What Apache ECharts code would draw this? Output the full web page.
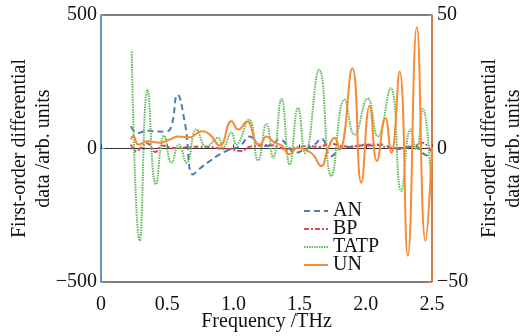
<!DOCTYPE html>
<html>
<head>
<meta charset="utf-8">
<script src="https://cdn.jsdelivr.net/npm/echarts@6/dist/echarts.min.js"></script>
<style>
  html, body { margin: 0; padding: 0; background: #fff; }
  #chart { width: 526px; height: 336px; }
</style>
</head>
<body>
<div id="chart"></div>
<script>
// [frequency THz, value]
const anData = [
  [0.226, 83], [0.281, 58], [0.345, 67], [0.407, 64], [0.483, 63], [0.528, 78],
  [0.578, 201], [0.633, 97], [0.696, -97], [0.747, -75], [0.822, -47], [0.897, -22],
  [0.973, -4], [1.048, 9], [1.124, 45], [1.186, 15], [1.237, 9], [1.29, 15],
  [1.35, 34], [1.413, 8], [1.463, -16], [1.538, -4], [1.614, 15], [1.664, 37],
  [1.74, -29], [1.815, 3], [1.893, 7], [1.968, 11], [2.044, 11], [2.127, 15],
  [2.217, -4], [2.293, 3], [2.368, 9], [2.443, -22], [2.496, -30]
];
const bpData = [
  [0.226, 15], [0.268, -11], [0.302, 4], [0.347, 20], [0.411, -13], [0.46, 11],
  [0.52, 4], [0.596, 2], [0.671, 6], [0.747, 7], [0.822, 6], [0.897, 0],
  [0.973, -2], [1.056, -9], [1.124, 7], [1.2, 11], [1.274, 13], [1.35, 4],
  [1.41, -4], [1.485, 4], [1.56, 9], [1.65, 6], [1.727, 19], [1.8, 11],
  [1.878, 7], [1.968, 13], [2.066, 15], [2.164, 4], [2.255, 2], [2.368, 9],
  [2.428, 22], [2.474, 4], [2.496, -15]
];
const tatpData = [
  [0.232, 363], [0.292, -346], [0.352, 220], [0.415, -134], [0.477, 48], [0.533, -53],
  [0.588, 15], [0.646, -53], [0.722, 71], [0.797, 7], [0.885, 40], [0.92, 4],
  [0.986, 60], [1.02, 15], [1.118, 108], [1.186, -45], [1.25, 92], [1.30, -35],
  [1.363, 185], [1.425, -60], [1.488, 152], [1.542, -17], [1.648, 295], [1.74, -103],
  [1.84, 183], [1.915, 52], [2.014, 187], [2.09, 45], [2.187, 226], [2.268, -159],
  [2.338, 71], [2.381, -4], [2.43, 148], [2.498, -183]
];
// UN is plotted against the right axis
const unData = [
  [0.226, 3.4], [0.244, 4.7], [0.283, 1.5], [0.354, 2.7], [0.445, 2.2], [0.52, 3.4],
  [0.583, 4.5], [0.671, 4.2], [0.759, 6.5], [0.822, 5.2], [0.897, 1.1], [0.986, 10.2],
  [1.037, 7.1], [1.101, 10.1], [1.173, 2.1], [1.2, 1.5], [1.25, 4.5], [1.312, 2.2],
  [1.365, 1.1], [1.425, -2.2], [1.486, 0.3], [1.538, -0.4], [1.6, -2.2], [1.664, -6.6],
  [1.712, -0.4], [1.765, 4.0], [1.802, -0.4], [1.898, 30.1], [1.966, -12.8], [2.029, 16],
  [2.084, -4.7], [2.147, 11.4], [2.192, -1.6], [2.255, 28.8], [2.317, -40.2], [2.385, 45.4],
  [2.451, -34.6], [2.501, 0.7]
];

const font = '"Liberation Serif", "DejaVu Serif", serif';
const fs = 20;
const minus = v => String(v).replace('-', '\u2212');

const chart = echarts.init(document.getElementById('chart'), null, { renderer: 'canvas' });

const lineSeries = (name, data, color, type, yIdx) => ({
  name,
  type: 'line',
  data,
  yAxisIndex: yIdx,
  smooth: 0.5,
  symbol: 'none',
  showSymbol: false,
  lineStyle: { color, width: 2, type },
  itemStyle: { color },
  z: 3
});

chart.setOption({
  animation: false,
  grid: {
    left: 101, right: 94, top: 15, bottom: 54,
    outerBoundsMode: 'none',
    show: true, borderColor: '#000', borderWidth: 1, backgroundColor: 'transparent'
  },
  legend: {
    orient: 'vertical',
    left: 298, top: 196,
    itemWidth: 24, itemHeight: 12, itemGap: -2, itemTextGap: 4,
    itemStyle: { opacity: 0, borderWidth: 0 },
    textStyle: { fontFamily: font, fontSize: fs, color: '#111', lineHeight: 18 },
    data: ['AN', 'BP', 'TATP', 'UN']
  },
  xAxis: {
    type: 'value', min: 0, max: 2.5, interval: 0.5,
    name: 'Frequency /THz', nameLocation: 'middle', nameGap: 30, nameMoveOverlap: false,
    nameTextStyle: { fontFamily: font, fontSize: fs, color: '#111' },
    axisLine: { lineStyle: { color: '#333', width: 1 } },
    axisTick: { inside: true, length: 4, lineStyle: { color: '#333' } },
    axisLabel: { fontFamily: font, fontSize: fs, color: '#111', margin: 13,
      formatter: v => v === 0 ? '0' : v.toFixed(1) },
    splitLine: { show: false }
  },
  yAxis: [
    {
      type: 'value', min: -500, max: 500, interval: 500,
      name: 'First-order differential\ndata /arb. units', nameLocation: 'middle', nameGap: 45,
      nameRotate: 90, nameMoveOverlap: false,
      nameTextStyle: { fontFamily: font, fontSize: fs, color: '#111', lineHeight: 24 },
      axisLine: { show: true, lineStyle: { color: '#5b9bd5', width: 1.5 } },
      axisTick: { show: true, inside: true, length: 4, lineStyle: { color: '#5b9bd5' } },
      axisLabel: { fontFamily: font, fontSize: fs, color: '#111', margin: 4, formatter: minus },
      splitLine: { show: false }
    },
    {
      type: 'value', min: -50, max: 50, interval: 50, position: 'right',
      name: 'First-order differential\ndata /arb. units', nameLocation: 'middle', nameGap: 46,
      nameRotate: 90, nameMoveOverlap: false,
      nameTextStyle: { fontFamily: font, fontSize: fs, color: '#111', lineHeight: 24 },
      axisLine: { show: true, lineStyle: { color: '#ec7a3e', width: 1.5 } },
      axisTick: { show: true, inside: true, length: 4, lineStyle: { color: '#ec7a3e' } },
      axisLabel: { fontFamily: font, fontSize: fs, color: '#111', margin: 5, formatter: minus },
      splitLine: { show: false }
    }
  ],
  series: [
    lineSeries('AN', anData, '#4a7db3', [6, 4], 0),
    lineSeries('BP', bpData, '#e2414f', [5, 2, 2, 2], 0),
    lineSeries('TATP', tatpData, '#62b85a', [1.5, 1], 0),
    lineSeries('UN', unData, '#f78a33', 'solid', 1)
  ]
});
</script>
</body>
</html>
